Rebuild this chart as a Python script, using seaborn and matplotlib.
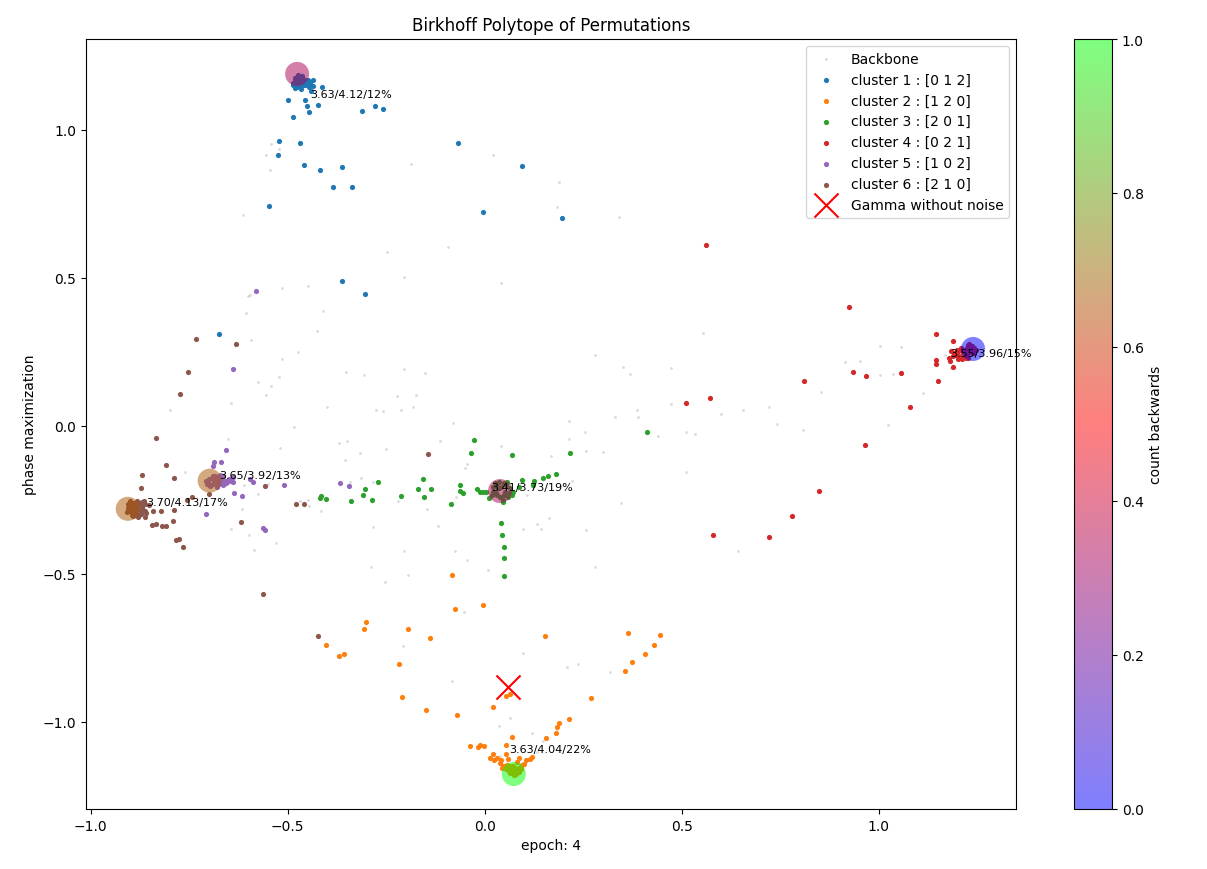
import numpy as np
import pandas as pd
import matplotlib
matplotlib.use('Agg')
import matplotlib.pyplot as plt
import seaborn as sns

# --- values ---
backbone_x = [-0.542, -0.521, -0.554, -0.544, -0.186, -0.613, -0.247, -0.204, -0.514, -0.448, -0.600, -0.595, -0.605, -0.410, -0.425, -0.593, -0.473, -0.514,
              0.020, 0.190, 0.185, 0.342, -0.092, 0.042, 0.555, 0.279,
              1.005, 1.058, 0.914, 0.952, 1.005, 1.036, 1.169, 1.184, 1.114, 0.855, 0.723, 0.655, 0.741, 0.807, 1.023, 1.282, 0.643,
              0.352, 0.370, 0.472, 0.474, 0.388, 0.390, 0.332, 0.215, 0.256, 0.213, 0.258, 0.301, 0.441, 0.510, 0.533, 0.601, 0.512, 0.347, 0.223, 0.169, 0.042, -0.044, -0.049, -0.080, -0.113, -0.072, 0.108, 0.164, 0.134, 0.098, 0.144, 0.258, 0.281, -0.118, -0.074, -0.044, 0.009,
              -0.575, -0.521, -0.542, -0.554, -0.643, -0.798, -0.400, -0.351, -0.306, -0.204, -0.151, -0.222, -0.173, -0.275, -0.257, -0.212, -0.181, -0.483, -0.651, -0.519, -0.369, -0.349, -0.316, -0.250, -0.354, -0.760, -0.610, -0.575, -0.549, -0.341, -0.313, -0.283, -0.448, -0.468, -0.445, -0.415, -0.219, -0.146, -0.615, -0.643, -0.598, -0.529, -0.585, -0.283, -0.204, -0.288, -0.194, -0.252,
              -0.052, 0.098, -0.206, 0.208, 0.238, 0.319, -0.082, 0.065, 0.037, 0.121, 0.147, 0.185, 0.040, 0.134]
backbone_y = [0.952, 0.935, 0.915, 0.864, 0.884, 0.712, 0.587, 0.502, 0.465, 0.472, 0.438, 0.441, 0.381, 0.387, 0.320, 0.290, 0.249, 0.225,
              0.915, 0.823, 0.739, 0.705, 0.604, 0.482, 0.313, 0.239,
              0.269, 0.266, 0.215, 0.219, 0.171, 0.175, 0.239, 0.195, 0.110, 0.114, 0.063, 0.053, 0.006, -0.015, 0.002, 0.253, -0.423,
              0.198, 0.175, 0.195, 0.073, 0.053, 0.029, 0.029, 0.016, -0.021, -0.045, -0.085, -0.089, -0.035, -0.021, -0.028, 0.040, -0.156, -0.261, -0.187, -0.102, -0.069, -0.129, -0.143, 0.009, -0.052, -0.241, -0.234, -0.312, -0.332, -0.349, -0.349, -0.352, -0.477, -0.339, -0.423, -0.454, -0.488,
              0.148, 0.165, 0.134, 0.104, 0.077, 0.053, 0.063, 0.181, 0.171, 0.192, 0.178, 0.100, 0.104, 0.053, 0.050, 0.053, 0.063, -0.004, -0.045, -0.075, -0.058, -0.052, -0.092, -0.079, -0.116, -0.156, -0.200, -0.231, -0.197, -0.190, -0.177, -0.190, -0.251, -0.254, -0.271, -0.288, -0.254, -0.281, -0.281, -0.349, -0.369, -0.396, -0.420, -0.342, -0.423, -0.477, -0.504, -0.528,
              -0.629, -0.768, -0.744, -0.815, -0.805, -0.832, -0.863, -0.987, -1.015, -1.038, -1.065, -1.025, -1.116, -1.102]

cluster1_x = [-0.521, -0.468, -0.524, -0.458, -0.417, -0.361, -0.384, -0.336, -0.547, -0.361, -0.303, -0.674, -0.067, 0.096, -0.003, 0.197,
              -0.482, -0.466, -0.445, -0.412, -0.435, -0.435, -0.442, -0.499, -0.455, -0.450, -0.422, -0.445, -0.486, -0.311, -0.278, -0.257,
              -0.486, -0.449, -0.461, -0.443, -0.476, -0.456, -0.473, -0.482, -0.465, -0.473, -0.456,
              -0.480, -0.472, -0.464, -0.470, -0.458, -0.486, -0.478, -0.466, -0.452, -0.445, -0.468, -0.460, -0.476, -0.462, -0.482]
cluster1_y = [0.962, 0.955, 0.915, 0.881, 0.864, 0.874, 0.806, 0.806, 0.742, 0.488, 0.445, 0.310, 0.955, 0.877, 0.722, 0.702,
              1.141, 1.137, 1.144, 1.144, 1.149, 1.169, 1.131, 1.100, 1.100, 1.080, 1.083, 1.060, 1.043, 1.063, 1.080, 1.070,
              1.152, 1.169, 1.159, 1.159, 1.145, 1.152, 1.186, 1.175, 1.175, 1.163, 1.169,
              1.168, 1.176, 1.182, 1.160, 1.160, 1.160, 1.152, 1.168, 1.162, 1.155, 1.150, 1.172, 1.180, 1.152, 1.165]

cluster2_x = [-0.082, -0.074, -0.003, -0.300, -0.306, -0.194, -0.138, 0.154, 0.365, 0.446, 0.429, 0.406, 0.375, 0.357, -0.402, -0.356, -0.369, -0.217, -0.209, -0.148, -0.069, 0.022, 0.055, 0.065, 0.271, 0.215, 0.190, 0.185, 0.180, 0.157, 0.070, 0.053, -0.036, -0.016, -0.011, -0.001,
              0.020, 0.014, 0.025, 0.032, 0.042, 0.040, 0.045, 0.055, 0.060, 0.086, 0.082, 0.104, 0.114, 0.119, 0.101,
              0.056, 0.066, 0.077, 0.086, 0.073, 0.063, 0.082, 0.092, 0.071, 0.058, 0.047,
              0.052, 0.060, 0.068, 0.075, 0.083, 0.090, 0.095, 0.078, 0.070, 0.065, 0.080, 0.074, 0.088, 0.055, 0.062, 0.092]
cluster2_y = [-0.504, -0.619, -0.606, -0.663, -0.687, -0.687, -0.717, -0.711, -0.700, -0.707, -0.741, -0.771, -0.798, -0.829, -0.741, -0.771, -0.778, -0.805, -0.917, -0.960, -0.977, -0.950, -0.913, -0.906, -0.920, -0.991, -1.004, -1.018, -1.038, -1.055, -1.052, -1.079, -1.082, -1.085, -1.079, -1.082,
              -1.109, -1.123, -1.129, -1.123, -1.129, -1.139, -1.156, -1.109, -1.126, -1.123, -1.134, -1.129, -1.126, -1.119, -1.143,
              -1.156, -1.156, -1.162, -1.156, -1.149, -1.165, -1.168, -1.149, -1.173, -1.145, -1.149,
              -1.150, -1.158, -1.165, -1.170, -1.163, -1.155, -1.147, -1.155, -1.150, -1.172, -1.176, -1.180, -1.168, -1.160, -1.148, -1.160]

cluster3_x = [-0.026, -0.034, 0.070, 0.218, 0.411, -0.135, -0.062, -0.062, -0.054, -0.085, -0.019, -0.013, -0.003, 0.004, 0.012, 0.096, 0.126, 0.088, 0.124, 0.149, 0.162, 0.180, 0.042, 0.045, 0.048, 0.048, 0.050, 0.071, 0.046,
              0.026, 0.048, 0.022, 0.035, 0.052, 0.065, 0.039, 0.060, 0.031, 0.046,
              -0.270, -0.303, -0.308, -0.285, -0.339, -0.212, -0.415, -0.417, -0.402, -0.156, -0.168, -0.153,
              0.020, 0.030, 0.042, 0.055, 0.062, 0.028, 0.018, 0.050, 0.070, 0.037, 0.057]
cluster3_y = [-0.048, -0.092, -0.099, -0.092, -0.021, -0.214, -0.200, -0.221, -0.227, -0.265, -0.214, -0.224, -0.224, -0.224, -0.244, -0.183, -0.187, -0.207, -0.200, -0.177, -0.170, -0.163, -0.329, -0.369, -0.410, -0.447, -0.508, -0.222, -0.256,
              -0.194, -0.192, -0.222, -0.211, -0.222, -0.211, -0.239, -0.239, -0.233, -0.250,
              -0.190, -0.214, -0.234, -0.251, -0.254, -0.238, -0.238, -0.244, -0.248, -0.180, -0.214, -0.241,
              -0.205, -0.195, -0.205, -0.200, -0.225, -0.225, -0.232, -0.235, -0.232, -0.190, -0.190]

cluster4_x = [0.561, 0.926, 1.147, 1.188, 1.185, 1.145, 1.145, 1.178, 1.181, 1.190, 1.201, 1.150, 1.056, 1.081, 0.934, 0.967, 0.810, 0.965, 0.510, 0.573, 0.581, 0.849, 0.781, 0.722,
              1.207, 1.199, 1.216, 1.207, 1.224, 1.233, 1.220, 1.241, 1.229, 1.214, 1.237, 1.190,
              1.200, 1.196, 1.210, 1.203, 1.212, 1.222, 1.218, 1.205, 1.228, 1.192,
              1.232, 1.226, 1.238, 1.243, 1.248, 1.236, 1.225, 1.243, 1.230]
cluster4_y = [0.610, 0.401, 0.310, 0.286, 0.252, 0.222, 0.208, 0.229, 0.219, 0.198, 0.225, 0.151, 0.178, 0.063, 0.181, 0.168, 0.151, -0.065, 0.077, 0.094, -0.369, -0.220, -0.304, -0.375,
              0.257, 0.246, 0.234, 0.232, 0.240, 0.268, 0.257, 0.257, 0.251, 0.246, 0.246, 0.236,
              0.255, 0.240, 0.262, 0.240, 0.225, 0.228, 0.250, 0.228, 0.230, 0.248,
              0.262, 0.272, 0.270, 0.262, 0.255, 0.252, 0.262, 0.248, 0.278]

cluster5_x = [-0.638, -0.656, -0.687, -0.669, -0.689, -0.664, -0.638, -0.638, -0.656, -0.664, -0.596, -0.587, -0.509, -0.367, -0.344, -0.636, -0.615, -0.707, -0.562, -0.557, -0.580,
              -0.702, -0.693, -0.680, -0.697, -0.674, -0.687, -0.706, -0.676,
              -0.700, -0.690, -0.683, -0.675, -0.670, -0.690, -0.680, -0.695, -0.708, -0.672, -0.685, -0.665,
              -0.660, -0.650, -0.655, -0.645]
cluster5_y = [0.192, -0.082, -0.123, -0.123, -0.136, -0.170, -0.173, -0.190, -0.194, -0.198, -0.180, -0.190, -0.200, -0.194, -0.204, -0.227, -0.238, -0.298, -0.346, -0.352, 0.455,
              -0.188, -0.177, -0.194, -0.203, -0.185, -0.185, -0.196, -0.173,
              -0.180, -0.170, -0.178, -0.195, -0.178, -0.195, -0.205, -0.200, -0.185, -0.165, -0.168, -0.188,
              -0.185, -0.180, -0.190, -0.186]

cluster6_x = [-0.753, -0.773, -0.834, -0.808, -0.870, -0.788, -0.872, -0.699, -0.742, -0.755, -0.852, -0.788, -0.841, -0.821, -0.862, -0.791, -0.844, -0.834, -0.819, -0.810, -0.775, -0.783, -0.765, -0.618, -0.557, -0.478, -0.458, -0.143, -0.732, -0.631, -0.422, -0.562,
              -0.896, -0.875, -0.905, -0.892, -0.867, -0.884, -0.896, -0.880, -0.863, -0.901, -0.888, -0.873,
              -0.905, -0.898, -0.890, -0.880, -0.870, -0.862, -0.885, -0.875, -0.895, -0.908, -0.885, -0.870, -0.860, -0.892, -0.878, -0.882, -0.866, -0.900]
cluster6_y = [0.181, 0.107, -0.042, -0.133, -0.167, -0.177, -0.210, -0.231, -0.241, -0.250, -0.268, -0.285, -0.288, -0.288, -0.308, -0.322, -0.335, -0.332, -0.339, -0.339, -0.383, -0.386, -0.410, -0.325, -0.204, -0.265, -0.265, -0.096, 0.293, 0.276, -0.711, -0.568,
              -0.261, -0.261, -0.278, -0.284, -0.284, -0.272, -0.301, -0.306, -0.289, -0.289, -0.301, -0.297,
              -0.265, -0.272, -0.262, -0.268, -0.258, -0.265, -0.280, -0.285, -0.292, -0.290, -0.295, -0.275, -0.295, -0.305, -0.300, -0.255, -0.255, -0.255]

cluster_names = ['cluster 1 : [0 1 2]', 'cluster 2 : [1 2 0]', 'cluster 3 : [2 0 1]',
                 'cluster 4 : [0 2 1]', 'cluster 5 : [1 0 2]', 'cluster 6 : [2 1 0]']

# big circles: one per permutation, coloured by backwards count
centre_x = [-0.476, 0.074, 0.039, 1.240, -0.698, -0.906]
centre_y = [1.189, -1.176, -0.220, 0.260, -0.185, -0.280]
centre_count = [1/3, 1.0, 1/3, 0.0, 2/3, 2/3]

note_labels = ['3.63/4.12/12%', '3.63/4.04/22%', '3.41/3.73/19%', '3.55/3.96/15%', '3.65/3.92/13%', '3.70/4.13/17%']
note_x = [-0.444, 0.062, 0.016, 1.182, -0.675, -0.860]
note_y = [1.122, -1.091, -0.206, 0.245, -0.167, -0.257]

gamma_x = [0.060]
gamma_y = [-0.881]

# --- plot ---
fig = plt.figure(figsize=(12.07, 8.7), dpi=100)
ax = fig.add_axes([86/1207, 60/870, 930/1207, 770/870])
cax = fig.add_axes([1074/1207, 60/870, 38/1207, 770/870])

sns.scatterplot(x=backbone_x, y=backbone_y, color='k', s=4, alpha=0.15, linewidth=0, label='Backbone', ax=ax)

clusters = [(cluster1_x, cluster1_y), (cluster2_x, cluster2_y), (cluster3_x, cluster3_y),
            (cluster4_x, cluster4_y), (cluster5_x, cluster5_y), (cluster6_x, cluster6_y)]
for (cx, cy), name, col in zip(clusters, cluster_names, sns.color_palette('tab10', 6)):
    sns.scatterplot(x=cx, y=cy, color=col, s=14, linewidth=0, label=name, ax=ax)

centres = pd.DataFrame({'x': centre_x, 'y': centre_y, 'count': centre_count})
sns.scatterplot(data=centres, x='x', y='y', hue='count', palette='brg', hue_norm=(0, 1),
                s=300, alpha=0.5, linewidth=0, legend=False, ax=ax)

sns.scatterplot(x=gamma_x, y=gamma_y, color='red', marker='x', s=300, linewidth=1.5,
                label='Gamma without noise', ax=ax)

for lab, nx, ny in zip(note_labels, note_x, note_y):
    ax.text(nx, ny, lab, fontsize=8, ha='left', va='center')

ax.set_xlim(-1.012, 1.349)
ax.set_ylim(-1.294, 1.307)
ax.set_title('Birkhoff Polytope of Permutations', pad=6.7)
ax.set_xlabel('epoch: 4')
ax.set_ylabel('phase maximization')
ax.legend(loc='upper right')

sm = plt.cm.ScalarMappable(norm=plt.Normalize(0, 1), cmap='brg')
fig.colorbar(sm, cax=cax, alpha=0.5, label='count backwards')

fig.savefig('out.png', dpi=100)
